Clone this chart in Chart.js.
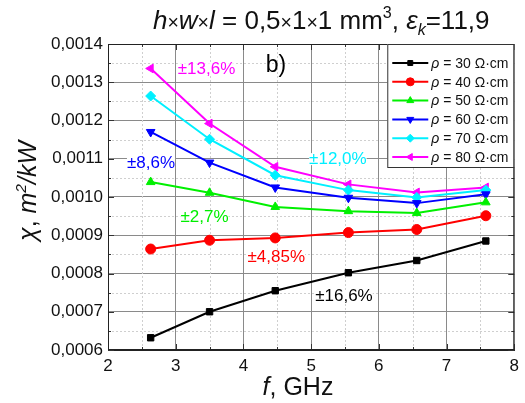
<!DOCTYPE html>
<html lang="en">
<head>
    <meta charset="UTF-8">
    <title>chi vs f</title>
    <script src="https://cdn.jsdelivr.net/npm/chart.js"></script>
    <style>
        body { margin: 0; background: #fff; }
    </style>
</head>
<body>
    <canvas id="chiChart" width="525" height="403"></canvas>

    <script>
        // frequency, GHz
        const freq = [2.63, 3.5, 4.47, 5.55, 6.56, 7.58];

        // chi, m^2/kW for each resistivity
        const rho30 = [0.000632, 0.000700, 0.000755, 0.000802, 0.000834, 0.000885];
        const rho40 = [0.000864, 0.000887, 0.000893, 0.000907, 0.000915, 0.000951];
        const rho50 = [0.001039, 0.001011, 0.000974, 0.000963, 0.000958, 0.000986];
        const rho60 = [0.001170, 0.001090, 0.001025, 0.000998, 0.000984, 0.001007];
        const rho70 = [0.001264, 0.001151, 0.001057, 0.001018, 0.000999, 0.001018];
        const rho80 = [0.001336, 0.001192, 0.001079, 0.001033, 0.001012, 0.001025];

        const legendLabels = ['30', '40', '50', '60', '70', '80'];

        // error labels: text, colour, x (GHz), y (chi) of left/middle
        const notes = [
            { text: '±13,6%', color: '#ff00ff', x: 3.03, y: 0.001334 },
            { text: '±8,6%',  color: '#0000ff', x: 2.28, y: 0.001088 },
            { text: '±2,7%',  color: '#00ee00', x: 3.07, y: 0.000947 },
            { text: '±4,85%', color: '#ff0000', x: 4.06, y: 0.000843 },
            { text: '±16,6%', color: '#000000', x: 5.06, y: 0.000741 },
            { text: '±12,0%', color: '#00eeff', x: 4.97, y: 0.001099 }
        ];

        function pts(arr) {
            return freq.map((f, i) => ({ x: f, y: arr[i] }));
        }

        function series(values, color, style, rotation) {
            return {
                data: pts(values),
                borderColor: color,
                backgroundColor: color,
                borderWidth: 2,
                pointStyle: style,
                pointRotation: rotation || 0,
                pointRadius: style === 'rect' ? 4.5 : 5,
                pointBorderWidth: 1,
                showLine: true,
                tension: 0
            };
        }

        const datasets = [
            series(rho30, '#000000', 'rect'),
            series(rho40, '#ff0000', 'circle'),
            series(rho50, '#00f000', 'triangle'),
            series(rho60, '#0000ff', 'triangle', 180),
            series(rho70, '#00f0ff', 'rectRot'),
            series(rho80, '#ff00ff', 'triangle', -90)
        ];

        // draw a run of text pieces (italic / sup / sub)
        function pieceFont(p, size) {
            const s = p.sup || p.sub ? size * 0.62 : (p.small ? size * 0.75 : size);
            return (p.i ? 'italic ' : '') + s + 'px Arial, "Liberation Sans"';
        }
        function richText(ctx, parts, x, y, size) {
            let cx = x;
            parts.forEach(p => {
                ctx.font = pieceFont(p, size);
                let dy = 0;
                if (p.sup) dy = -size * 0.42;
                if (p.sub) dy = size * 0.22;
                ctx.fillText(p.t, cx, y + dy);
                cx += ctx.measureText(p.t).width;
            });
            return cx - x;
        }
        function richWidth(ctx, parts, size) {
            let w = 0;
            parts.forEach(p => {
                ctx.font = pieceFont(p, size);
                w += ctx.measureText(p.t).width;
            });
            return w;
        }

        const decorPlugin = {
            id: 'decor',
            beforeDatasetsDraw(chart) {
                const ctx = chart.ctx;
                const xs = chart.scales.x, ys = chart.scales.y;
                const a = chart.chartArea;
                ctx.save();
                ctx.strokeStyle = '#cfcfcf';
                ctx.lineWidth = 1;
                ctx.setLineDash([2, 2]);
                for (let v = 2.5; v < 8; v += 1) {
                    const px = Math.round(xs.getPixelForValue(v)) + 0.5;
                    ctx.beginPath(); ctx.moveTo(px, a.top); ctx.lineTo(px, a.bottom); ctx.stroke();
                }
                for (let k = 0; k < 8; k++) {
                    const py = Math.round(ys.getPixelForValue(0.00065 + k * 0.0001)) + 0.5;
                    ctx.beginPath(); ctx.moveTo(a.left, py); ctx.lineTo(a.right, py); ctx.stroke();
                }
                ctx.restore();
            },
            afterDatasetsDraw(chart) {
                const ctx = chart.ctx;
                const xs = chart.scales.x, ys = chart.scales.y;
                const a = chart.chartArea;
                ctx.save();

                // inward ticks on all four sides
                ctx.strokeStyle = '#333';
                ctx.lineWidth = 1;
                for (let k = 0; k <= 12; k++) {
                    const v = 2 + k * 0.5;
                    const len = k % 2 === 0 ? 6 : 3;
                    const px = Math.round(xs.getPixelForValue(v)) + 0.5;
                    ctx.beginPath();
                    ctx.moveTo(px, a.bottom); ctx.lineTo(px, a.bottom - len);
                    ctx.moveTo(px, a.top); ctx.lineTo(px, a.top + len);
                    ctx.stroke();
                }
                for (let k = 0; k <= 16; k++) {
                    const v = 0.0006 + k * 0.00005;
                    const len = k % 2 === 0 ? 6 : 3;
                    const py = Math.round(ys.getPixelForValue(v)) + 0.5;
                    ctx.beginPath();
                    ctx.moveTo(a.left, py); ctx.lineTo(a.left + len, py);
                    ctx.moveTo(a.right, py); ctx.lineTo(a.right - len, py);
                    ctx.stroke();
                }
                ctx.strokeStyle = '#222';
                ctx.strokeRect(a.left + 0.5, a.top + 0.5, a.right - a.left - 1, a.bottom - a.top - 1);

                // error annotations
                ctx.font = '17px Arial, "Liberation Sans"';
                ctx.textBaseline = 'middle';
                notes.forEach(n => {
                    const px = xs.getPixelForValue(n.x);
                    const py = ys.getPixelForValue(n.y);
                    const w = ctx.measureText(n.text).width;
                    ctx.fillStyle = '#fff';
                    ctx.fillRect(px, py - 6, w, 12);
                    ctx.fillStyle = n.color;
                    ctx.fillText(n.text, px, py);
                });
                ctx.fillStyle = '#000';
                ctx.font = '23px Arial, "Liberation Sans"';
                ctx.fillText('b)', xs.getPixelForValue(4.33), ys.getPixelForValue(0.001344));

                // legend box
                const lx = a.right - 127, ly = a.top;
                ctx.fillStyle = '#fff';
                ctx.fillRect(lx, ly, 127, 123);
                ctx.strokeStyle = '#333';
                ctx.strokeRect(lx + 0.5, ly + 0.5, 126, 123);
                chart.data.datasets.forEach((ds, i) => {
                    const ry = ly + 19 + i * 18.8;
                    ctx.strokeStyle = ds.borderColor;
                    ctx.fillStyle = ds.backgroundColor;
                    ctx.lineWidth = 2;
                    ctx.beginPath(); ctx.moveTo(lx + 5, ry); ctx.lineTo(lx + 41, ry); ctx.stroke();
                    ctx.lineWidth = 1;
                    Chart.helpers.drawPoint(ctx, {
                        pointStyle: ds.pointStyle,
                        radius: ds.pointStyle === 'rect' ? 3.5 : 4,
                        rotation: ds.pointRotation,
                        borderWidth: 1
                    }, lx + 23, ry);
                    ctx.fillStyle = '#111';
                    ctx.textBaseline = 'middle';
                    richText(ctx, [
                        { t: 'ρ', i: true },
                        { t: ' = ' + legendLabels[i] + ' Ω·cm' }
                    ], lx + 44, ry + 1, 14);
                });
                ctx.restore();
            },
            afterDraw(chart) {
                const ctx = chart.ctx;
                const a = chart.chartArea;
                ctx.save();
                ctx.fillStyle = '#111';
                ctx.textBaseline = 'alphabetic';

                // title
                const title = [
                    { t: 'h', i: true }, { t: '×', small: true }, { t: 'w', i: true }, { t: '×', small: true },
                    { t: 'l', i: true }, { t: ' = 0,5' }, { t: '×', small: true }, { t: '1' }, { t: '×', small: true },
                    { t: '1 mm' }, { t: '3', sup: true }, { t: ', ' }, { t: 'ε', i: true }, { t: 'k', i: true, sub: true },
                    { t: '=11,9' }
                ];
                richText(ctx, title, 153, 29, 26);

                // x title
                const xt = [{ t: 'f', i: true }, { t: ', GHz' }];
                const xw = richWidth(ctx, xt, 25);
                richText(ctx, xt, 298 - xw / 2, 395, 25);

                // y title
                const yt = [{ t: 'χ', i: true }, { t: ', ' }, { t: 'm', i: true }, { t: '2', i: true, sup: true }, { t: '/kW', i: true }];
                const yw = richWidth(ctx, yt, 25);
                ctx.translate(36, (a.top + a.bottom) / 2 - 6);
                ctx.rotate(-Math.PI / 2);
                richText(ctx, yt, -yw / 2, 0, 25);
                ctx.restore();
            }
        };

        const ctx = document.getElementById('chiChart').getContext('2d');
        const chiChart = new Chart(ctx, {
            type: 'scatter',
            data: { datasets: datasets },
            options: {
                responsive: false,
                animation: false,
                layout: { padding: { top: 44, right: 3, left: 0, bottom: 0 } },
                plugins: {
                    legend: { display: false },
                    tooltip: { enabled: false }
                },
                scales: {
                    x: {
                        type: 'linear',
                        min: 2,
                        max: 8,
                        afterFit: s => { s.height = 53; },
                        ticks: {
                            stepSize: 1,
                            color: '#111',
                            padding: 6,
                            font: { family: 'Arial, "Liberation Sans"', size: 17 }
                        },
                        grid: { color: '#8a8a8a', drawTicks: false },
                        border: { color: '#222' }
                    },
                    y: {
                        min: 0.0006,
                        max: 0.0014,
                        afterFit: s => { s.width = 108; },
                        ticks: {
                            stepSize: 0.0001,
                            color: '#111',
                            padding: 5,
                            font: { family: 'Arial, "Liberation Sans"', size: 17 },
                            callback: v => v.toFixed(4).replace('.', ',')
                        },
                        grid: { color: '#8a8a8a', drawTicks: false },
                        border: { color: '#222' }
                    }
                }
            },
            plugins: [decorPlugin]
        });
    </script>
</body>
</html>
